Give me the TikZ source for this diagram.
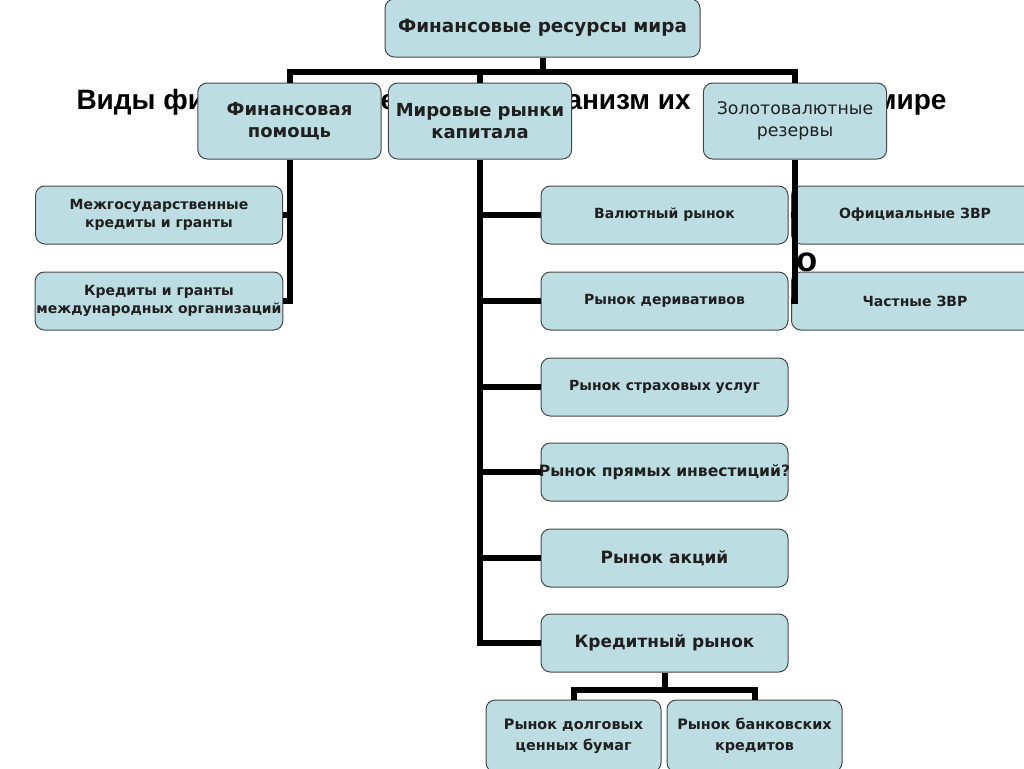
\documentclass[tikz,border=0pt]{standalone}
\usepackage{fontspec}
\setmainfont{DejaVu Sans}
\newfontfamily\titlefont{Liberation Sans}
\definecolor{boxfill}{RGB}{188,222,226}
\definecolor{boxline}{RGB}{70,70,70}
\tikzset{every picture/.style={line width=0.75pt}}
\tikzset{
  box/.style={draw=boxline, fill=boxfill, rounded corners=7pt, align=center, inner sep=1pt,
    text=black!88, minimum width=185.25pt, minimum height=43.5pt,
    font=\bfseries\fontsize{10.5}{14}\selectfont},
  headbox/.style={box, minimum width=137.5pt, minimum height=57pt,
    font=\bfseries\fontsize{13.5}{16.5}\selectfont},
  bus/.style={line width=4.5pt},
  titlepart/.style={font=\titlefont\bfseries\fontsize{21}{25}\selectfont, inner sep=0pt, anchor=base west},
}

\begin{document}
\begin{tikzpicture}[x=0.75pt,y=0.75pt,yscale=-1,xscale=1]
\useasboundingbox (0,0) rectangle (1024,768);

% Title fragments (behind boxes)
\node (t1) [titlepart] at (76,109) {Виды фи};
\node (t2) [titlepart] at (380,109) {е};
\node (t3) [titlepart] at (566,109) {анизм их};
\node (t4) [titlepart, anchor=base east] at (947,109) {мире};
\node (t5) [titlepart, anchor=base, font=\titlefont\bfseries\fontsize{26}{30}\selectfont] at (807,271) {о};

% Top
\node (root) [box, minimum width=236.25pt, minimum height=43.5pt, font=\bfseries\fontsize{13.8}{16}\selectfont] at (542.5,28) {Финансовые ресурсы мира};
\node (aid) [headbox] at (289.5,121) {Финансовая\\помощь};
\node (mkt) [headbox] at (480,121) {Мировые рынки\\капитала};
\node (gold) [headbox, font=\fontsize{13}{16.5}\selectfont] at (795,121) {Золотовалютные\\резервы};

% Financial aid
\node (aid1) [box] at (159,215) {Межгосударственные\\кредиты и гранты};
\node (aid2) [box] at (159,301) {Кредиты и гранты\\международных организаций};

% World capital markets
\node (mkt1) [box] at (664.5,215) {Валютный рынок};
\node (mkt2) [box] at (664.5,301) {Рынок деривативов};
\node (mkt3) [box] at (664.5,387) {Рынок страховых услуг};
\node (mkt4) [box, font=\bfseries\fontsize{11.7}{14}\selectfont] at (664.5,472) {\makebox[0pt]{Рынок прямых инвестиций?}};
\node (mkt5) [box, font=\bfseries\fontsize{12.7}{15}\selectfont] at (664.5,558) {Рынок акций};
\node (mkt6) [box, font=\bfseries\fontsize{12.7}{15}\selectfont] at (664.5,643) {Кредитный рынок};

% Credit market
\node (cr1) [box, minimum width=131.25pt, minimum height=54pt, font=\bfseries\fontsize{10.8}{16}\selectfont] at (573.5,736) {Рынок долговых\\ценных бумаг};
\node (cr2) [box, minimum width=131.25pt, minimum height=54pt, font=\bfseries\fontsize{10.8}{16}\selectfont] at (754.5,736) {Рынок банковских\\кредитов};

% Reserves
\node (gold1) [box] at (915,215) {Официальные ЗВР};
\node (gold2) [box] at (915,301) {Частные ЗВР};

% Connectors
\coordinate (busy) at (0,72);
\coordinate (splity) at (0,690);
\draw[bus] (root.south) -- (root |- busy);
\draw[bus] (aid.north) -- (aid |- busy) -- (gold |- busy) -- (gold.north);
\draw[bus] (mkt.north) -- (mkt |- busy);

\draw[bus] (aid.south) |- (aid2.east);
\draw[bus] (aid1.east) -- (aid1.east -| aid);

\draw[bus] (mkt.south) |- (mkt6.west);
\foreach \n in {mkt1,mkt2,mkt3,mkt4,mkt5}
  \draw[bus] (\n.west) -- (\n.west -| mkt);

\draw[bus] (gold.south) |- (gold2.west);
\draw[bus] (gold1.west) -- (gold1.west -| gold);

\draw[bus] (mkt6.south) -- (mkt6 |- splity);
\draw[bus] (cr1.north) -- (cr1 |- splity) -- (cr2 |- splity) -- (cr2.north);

\end{tikzpicture}
\end{document}
